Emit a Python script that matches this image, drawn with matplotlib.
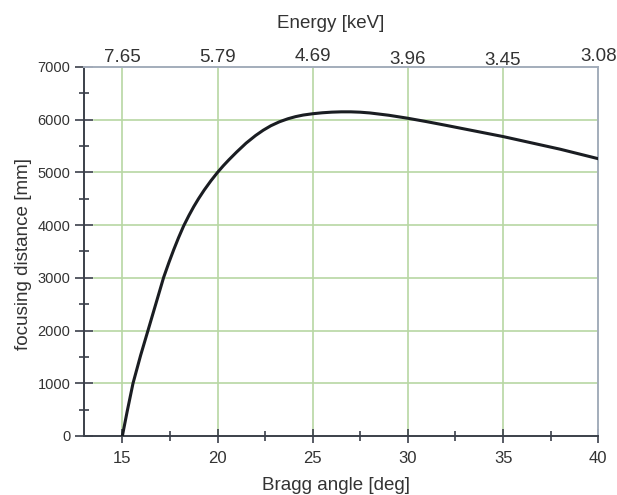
import matplotlib
matplotlib.use("agg")
import matplotlib.pyplot as plt
from matplotlib.ticker import MultipleLocator

plt.rcParams["font.family"] = ["Liberation Sans", "DejaVu Sans"]

# curve
bragg = [15.0, 15.25, 15.56, 15.96, 16.37, 16.77, 17.17, 17.45, 17.7, 17.95,
         18.22, 18.5, 18.75, 19.0, 19.3, 19.65, 20.0, 20.3, 20.6, 21.0, 21.5,
         22.0, 22.4, 22.8, 23.25, 23.7, 24.1, 24.5, 25.0, 25.5, 26.0, 26.5,
         27.0, 27.5, 28.0, 29.0, 30.0, 31.0, 32.0, 33.0, 34.0, 35.0, 36.0,
         37.0, 38.0, 39.0, 40.0]
focus = [0, 460, 1000, 1530, 2030, 2520, 3010, 3295, 3535, 3760,
         3985, 4185, 4350, 4500, 4665, 4840, 5000, 5125, 5240, 5385, 5555,
         5700, 5800, 5885, 5960, 6018, 6058, 6088, 6113, 6131, 6143, 6149,
         6149, 6142, 6128, 6084, 6027, 5962, 5893, 5822, 5751, 5680, 5600,
         5520, 5440, 5350, 5260]

angle_ticks = [15, 20, 25, 30, 35, 40]
energy_labels = ["7.65", "5.79", "4.69", "3.96", "3.45", "3.08"]
# the top labels sit a little unevenly in the original (baseline lift, px)
energy_lift = [5, 5, 6, 3, 1.5, 6]

dark = "#3b404a"
txt = "#333333"
grid_green = "#b7d7a3"

fig = plt.figure(figsize=(6.17, 4.95), dpi=100)
ax = fig.add_axes([0.1366, 0.1192, 0.833, 0.7455])

for a in angle_ticks[:-1]:
    ax.axvline(a, color=grid_green, lw=1.2, zorder=1)
for f in range(1000, 7000, 1000):
    ax.axhline(f, xmin=0.018, color=grid_green, lw=1.2, zorder=1)

ax.plot(bragg, focus, color="#1a1d22", lw=2.2, zorder=3)

ax.set_xlim(13, 40)
ax.set_ylim(0, 7000)
ax.xaxis.set_major_locator(MultipleLocator(5))
ax.xaxis.set_minor_locator(MultipleLocator(2.5))
ax.yaxis.set_major_locator(MultipleLocator(1000))
ax.yaxis.set_minor_locator(MultipleLocator(500))
ax.set_xticks(angle_ticks)

ax.tick_params(which="major", direction="inout", length=13, width=1.2,
               color=dark, labelcolor=txt, labelsize=10.5)
ax.tick_params(which="minor", direction="inout", length=7, width=1.2,
               color=dark)
ax.tick_params(axis="x", which="major", length=10, pad=6, labelsize=12)
ax.tick_params(axis="x", which="minor", length=7)

for side in ["left", "bottom"]:
    ax.spines[side].set_color(dark)
    ax.spines[side].set_linewidth(1.4)
for side in ["top", "right"]:
    ax.spines[side].set_color("#a3adbb")
    ax.spines[side].set_linewidth(1.4)

ax.set_xlabel("Bragg angle [deg]", fontsize=13.5, color=txt)
ax.xaxis.set_label_coords(0.49, -0.111)
ax.set_ylabel("focusing distance [mm]", fontsize=13.6, color=txt)
ax.yaxis.set_label_coords(-0.102, 0.493)

# energy scale along the top
for a, lbl, dy in zip(angle_ticks, energy_labels, energy_lift):
    ax.annotate(lbl, xy=(a, 1.0), xycoords=("data", "axes fraction"),
                xytext=(0, dy), textcoords="offset pixels",
                ha="center", va="baseline", fontsize=13.5, color=txt)
ax.text(0.48, 1.095, "Energy [keV]", transform=ax.transAxes,
        ha="center", va="bottom", fontsize=13.5, color=txt)

fig.savefig("out.png", dpi=100)
